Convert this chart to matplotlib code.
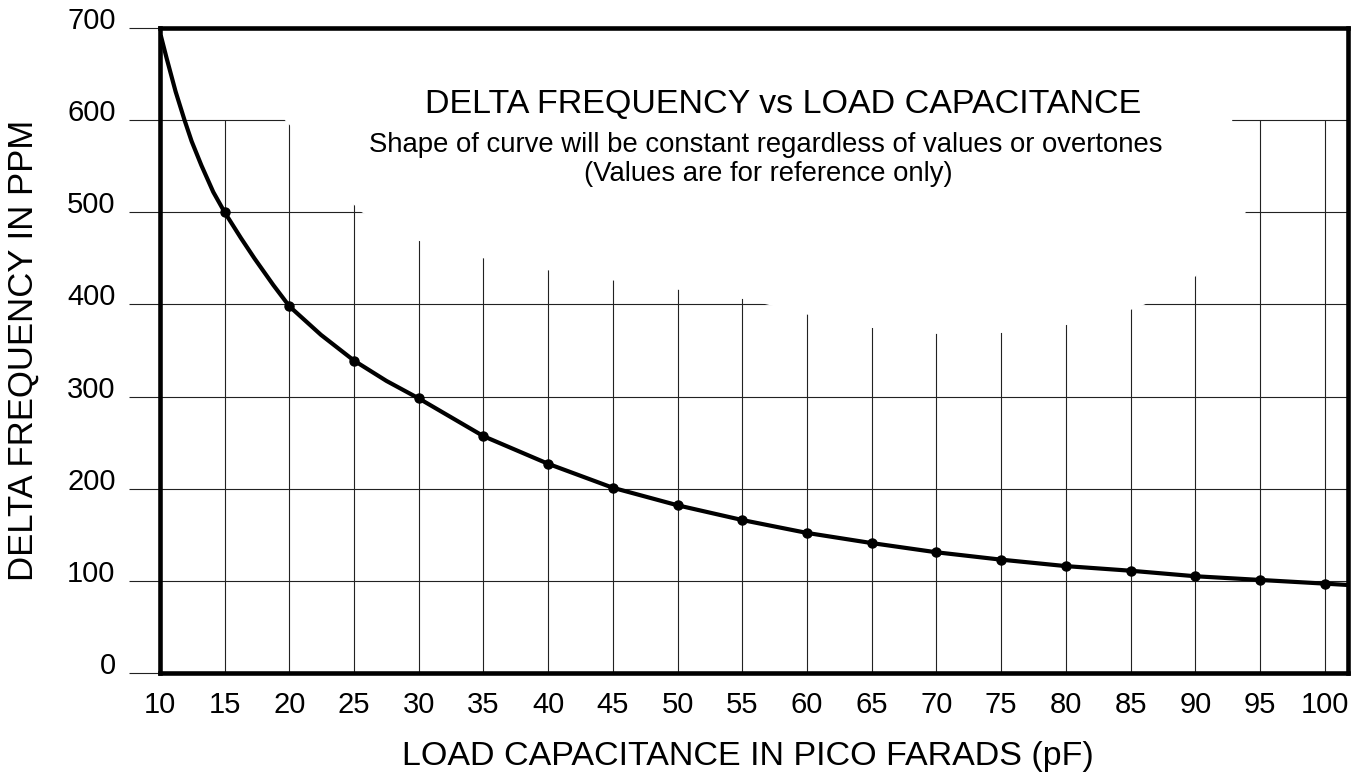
import numpy as np
import matplotlib
matplotlib.use("Agg")
import matplotlib.pyplot as plt
from matplotlib.patches import Polygon
from matplotlib.transforms import ScaledTranslation

plt.rcParams['font.family'] = ['Liberation Sans', 'DejaVu Sans']

# curve (load capacitance pF, delta frequency ppm)
curve_x = [10.1, 10.52, 11.21, 11.9, 12.45, 13.2, 14.12, 15, 16.26, 17.3, 18.76,
           20, 22.44, 25, 27.5, 30, 35, 40, 45, 50, 55,
           60, 65, 70, 75, 80, 85, 90, 95, 100, 101.8]
curve_y = [690, 667, 631, 600, 577, 551, 522, 500, 472, 450, 421,
           398, 367, 339, 317, 298, 257, 227, 201, 182, 166,
           152, 141, 131, 123, 116, 111, 105, 101, 97, 95.5]

# marked points
point_x = [15, 20, 25, 30, 35, 40, 45, 50, 55, 60, 65, 70, 75, 80, 85, 90, 95, 100]
point_y = [500, 398, 339, 298, 257, 227, 201, 182, 166, 152, 141, 131, 123, 116,
           111, 105, 101, 97]

x_ticks = list(range(10, 101, 5))
y_ticks = list(range(0, 701, 100))

title = "DELTA FREQUENCY vs LOAD CAPACITANCE"
sub1 = "Shape of curve will be constant regardless of values or overtones"
sub2 = "(Values are for reference only)"

W, H = 1359, 774
fig = plt.figure(figsize=(W / 100, H / 100), dpi=100)
ax = fig.add_axes([0.1177, 0.1305, 0.8742, 0.8333])
ax.set_xlim(10, 101.8)
ax.set_ylim(0, 700)

# grid, clipped at 600
ax.vlines(x_ticks[1:], 0, 600, color='#222222', lw=0.8, zorder=1)
ax.hlines(y_ticks[1:-1], 10, 101.8, color='#222222', lw=0.8, zorder=1)

# white area behind the heading
cut = [(19.65, 700), (19.65, 600), (20.0, 595), (25.0, 508), (25.6, 500),
       (30, 469), (35, 450), (40, 437), (45, 426), (50, 416), (55, 406),
       (56.9, 400), (60, 389), (65, 374.5), (70, 368), (75, 369), (80, 377.5),
       (85, 394), (86.1, 400), (90, 430), (93.9, 500), (92.85, 600), (92.85, 700)]
ax.add_patch(Polygon(cut, closed=True, facecolor='white', edgecolor='none', zorder=1.5))

ax.plot(curve_x, curve_y, color='black', lw=3, zorder=3, solid_joinstyle='round')
ax.plot(point_x, point_y, 'o', color='black', ms=6.5, zorder=4)

ax.set_xticks(x_ticks)
ax.set_yticks(y_ticks)
ax.tick_params(axis='x', length=0, pad=13, labelsize=21)
ax.tick_params(axis='y', length=22, width=0.8, color='#222222', pad=10, labelsize=21)
for lab in ax.get_yticklabels():
    lab.set_transform(lab.get_transform() + ScaledTranslation(0, 0.1, fig.dpi_scale_trans))

for s in ax.spines.values():
    s.set_linewidth(3.3)
    s.set_zorder(5)

fig.text(748 / W, 1 - 765 / H, "LOAD CAPACITANCE IN PICO FARADS (pF)",
         ha='center', va='baseline', fontsize=24.5)
fig.text(23 / W, 1 - 350 / H, "DELTA FREQUENCY IN PPM", rotation=90,
         ha='center', va='center', fontsize=25)

fig.text(783 / W, 1 - 113 / H, title, ha='center', va='baseline', fontsize=24.5, zorder=6)
fig.text(766 / W, 1 - 152 / H, sub1, ha='center', va='baseline', fontsize=19.8, zorder=6)
fig.text(768 / W, 1 - 181 / H, sub2, ha='center', va='baseline', fontsize=19.8, zorder=6)

fig.savefig("out.png", dpi=100)
